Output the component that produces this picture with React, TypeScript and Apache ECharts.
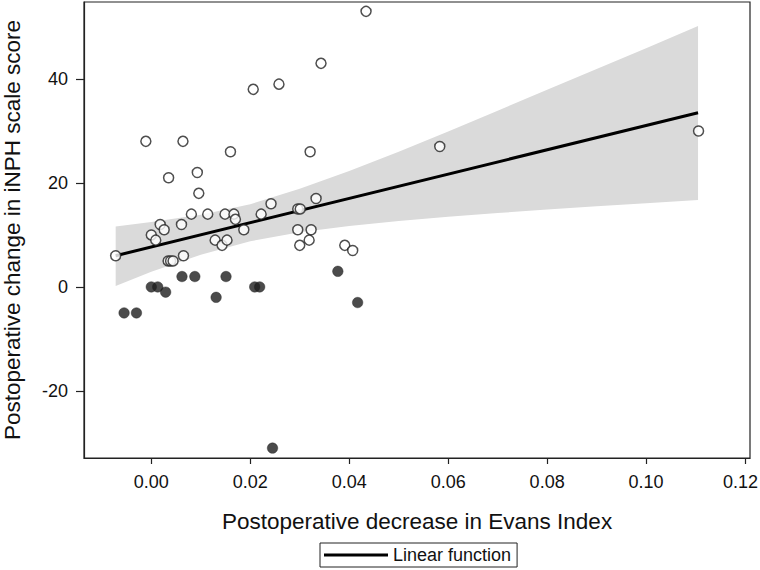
import React, { useEffect, useRef } from "react";
import * as echarts from "echarts";

// Open circles: improved patients
const openX = [-0.0072, -0.0011, 0.0, 0.0009, 0.0018, 0.0026, 0.0035, 0.0034, 0.0039, 0.0044, 0.0061, 0.0064, 0.0065, 0.0081, 0.0093, 0.0096, 0.0114, 0.0129, 0.0143, 0.0149, 0.0153, 0.016, 0.0167, 0.017, 0.0187, 0.0206, 0.0222, 0.0242, 0.0258, 0.0296, 0.0301, 0.0296, 0.03, 0.0319, 0.0321, 0.0323, 0.0333, 0.0343, 0.0391, 0.0407, 0.0434, 0.0583, 0.1106];
const openY = [6, 28, 10, 9, 12, 11, 21, 5, 5, 5, 12, 28, 6, 14, 22, 18, 14, 9, 8, 14, 9, 26, 14, 13, 11, 38, 14, 16, 39, 15, 15, 11, 8, 9, 26, 11, 17, 43, 8, 7, 53, 27, 30];

// Filled circles: not improved
const filledX = [-0.0055, -0.003, 0.0, 0.0013, 0.0029, 0.0062, 0.0088, 0.0131, 0.0151, 0.0209, 0.0219, 0.0245, 0.0377, 0.0417];
const filledY = [-5, -5, 0, 0, -1, 2, 2, -2, 2, 0, 0, -31, 3, -3];

// Linear fit
const fitX = [-0.0072, 0.1105];
const fitY = [6.0, 33.5];

// Confidence band
const bandX = [-0.0072, 0.0, 0.01, 0.02, 0.03, 0.04, 0.05, 0.06, 0.07, 0.08, 0.09, 0.1, 0.1105];
const bandLower = [0.2, 2.9, 6.2, 8.8, 10.5, 11.7, 12.7, 13.5, 14.2, 14.9, 15.5, 16.1, 16.7];
const bandUpper = [11.6, 12.5, 13.9, 15.9, 18.9, 22.3, 26.0, 29.9, 33.9, 37.9, 41.9, 45.9, 50.2];

const xTicks = [0.0, 0.02, 0.04, 0.06, 0.08, 0.1, 0.12];
const yTicks = [-20, 0, 20, 40];

const FONT = "'Liberation Sans', Arial, Helvetica, sans-serif";
const INK = "#222222";

export default function App() {
  const ref = useRef<HTMLDivElement>(null);
  useEffect(() => {
    if (!ref.current) return;
    const chart = echarts.init(ref.current, null, { renderer: "svg" });
    const lastTick = xTicks[xTicks.length - 1];
    const option: any = {
      animation: false,
      backgroundColor: "#ffffff",
      textStyle: { fontFamily: FONT },
      grid: {
        left: 84,
        right: 10,
        top: 2,
        bottom: 112,
        containLabel: false,
        outerBoundsMode: "none",
        show: true,
        borderColor: INK,
        borderWidth: 1.2,
        backgroundColor: "transparent",
      },
      legend: {
        data: [{ name: "Linear function", icon: "rect" }],
        left: 320,
        top: 543,
        itemWidth: 64,
        itemHeight: 3,
        itemGap: 6,
        padding: [3, 6, 3, 4],
        borderColor: INK,
        borderWidth: 1,
        textStyle: { fontFamily: FONT, fontSize: 18, color: "#111" },
        selectedMode: false,
      },
      xAxis: {
        type: "value",
        min: -0.0136,
        max: 0.121,
        name: "Postoperative decrease in Evans Index",
        nameLocation: "middle",
        nameGap: 52,
        nameTextStyle: { fontFamily: FONT, fontSize: 22.5, color: "#111" },
        axisLine: { show: true, onZero: false, lineStyle: { color: INK, width: 1.2 } },
        axisTick: { show: true, inside: false, length: 6, customValues: xTicks, lineStyle: { color: INK, width: 1.2 } },
        axisLabel: {
          customValues: xTicks,
          margin: 15,
          fontFamily: FONT,
          fontSize: 18,
          color: "#111",
          formatter: (v: number) =>
            Math.abs(v - lastTick) < 1e-9 ? "{last|" + v.toFixed(2) + "}" : v.toFixed(2),
          rich: {
            last: { fontFamily: FONT, fontSize: 18, color: "#111", padding: [0, 9, 0, 0] },
          },
        },
        splitLine: { show: false },
      },
      yAxis: {
        type: "value",
        min: -32.9,
        max: 54.8,
        name: "Postoperative change in iNPH scale score",
        nameLocation: "middle",
        nameGap: 60,
        nameTextStyle: { fontFamily: FONT, fontSize: 22.5, color: "#111" },
        axisLine: { show: true, onZero: false, lineStyle: { color: INK, width: 1.2 } },
        axisTick: { show: true, inside: false, length: 8, customValues: yTicks, lineStyle: { color: INK, width: 1.2 } },
        axisLabel: {
          customValues: yTicks,
          margin: 16,
          fontFamily: FONT,
          fontSize: 18,
          color: "#111",
        },
        splitLine: { show: false },
      },
      series: [
        {
          type: "custom",
          name: "band",
          silent: true,
          z: 1,
          data: [0],
          renderItem: (_params: any, api: any) => {
            const pts: number[][] = [];
            for (let i = 0; i < bandX.length; i++) pts.push(api.coord([bandX[i], bandUpper[i]]));
            for (let i = bandX.length - 1; i >= 0; i--) pts.push(api.coord([bandX[i], bandLower[i]]));
            return { type: "polygon", shape: { points: pts }, style: { fill: "#dadada", stroke: "none" } };
          },
        },
        {
          type: "line",
          name: "Linear function",
          z: 3,
          data: fitX.map((x, i) => [x, fitY[i]]),
          showSymbol: false,
          lineStyle: { color: "#000", width: 3 },
          itemStyle: { color: "#000" },
        },
        {
          type: "scatter",
          name: "improved",
          z: 4,
          data: openX.map((x, i) => [x, openY[i]]),
          symbol: "circle",
          symbolSize: 10,
          itemStyle: { color: "#ffffff", borderColor: INK, borderWidth: 1.5 },
        },
        {
          type: "scatter",
          name: "not improved",
          z: 4,
          data: filledX.map((x, i) => [x, filledY[i]]),
          symbol: "circle",
          symbolSize: 10.5,
          itemStyle: { color: "#1e1e1e", borderColor: "#1e1e1e", borderWidth: 0.5 },
        },
      ],
    };
    chart.setOption(option);
    return () => chart.dispose();
  }, []);
  return (
    <div
      ref={ref}
      style={{ position: "absolute", left: 0, top: 0, width: 760, height: 570, background: "#fff" }}
    />
  );
}
